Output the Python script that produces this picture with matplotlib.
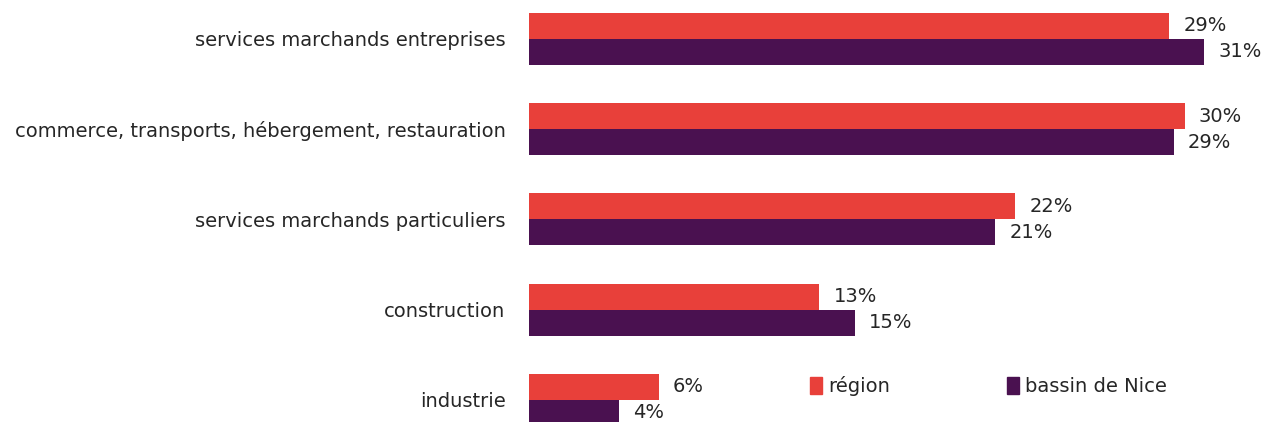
import matplotlib.pyplot as plt
from matplotlib.patches import Patch

plt.rcParams['font.family'] = ['DejaVu Sans']

categories = ['services marchands entreprises',
              'commerce, transports, hébergement, restauration',
              'services marchands particuliers',
              'construction',
              'industrie']
region = [29.1, 29.8, 22.1, 13.2, 5.9]
bassin = [30.7, 29.3, 21.2, 14.8, 4.1]
series_names = ['région', 'bassin de Nice']

red = '#E8403A'
purple = '#4A1150'
txt = '#262626'
fs = 14

fig = plt.figure(figsize=(12.64, 4.22), dpi=100)
ax = fig.add_axes([529 / 1264, 0, 1 - 529 / 1264, 1])

pos = list(range(len(categories)))
h = 0.288
ax.barh([p - h / 2 for p in pos], region, height=h, color=red)
ax.barh([p + h / 2 for p in pos], bassin, height=h, color=purple)

for p, v in zip(pos, region):
    ax.text(v + 0.65, p - h / 2, f'{round(v)}%', va='center', ha='left', fontsize=fs, color=txt)
for p, v in zip(pos, bassin):
    ax.text(v + 0.65, p + h / 2, f'{round(v)}%', va='center', ha='left', fontsize=fs, color=txt)

ax.set_xlim(0, 735 / 22)
ax.set_ylim(4.244, -0.432)
ax.set_yticks(pos)
ax.set_yticklabels(categories, fontsize=fs, color=txt)
ax.tick_params(axis='y', length=0, pad=17)
ax.set_xticks([])
for s in ax.spines.values():
    s.set_visible(False)

handles = [Patch(color=red), Patch(color=purple)]
fig.legend(handles, series_names, loc='center left', bbox_to_anchor=(800 / 1264, 1 - 386 / 422),
           ncol=2, frameon=False, fontsize=fs, handlelength=0.65, handleheight=1.0,
           handletextpad=0.3, columnspacing=6.0, borderpad=0, labelcolor=txt)

fig.savefig('out.png', dpi=100)
